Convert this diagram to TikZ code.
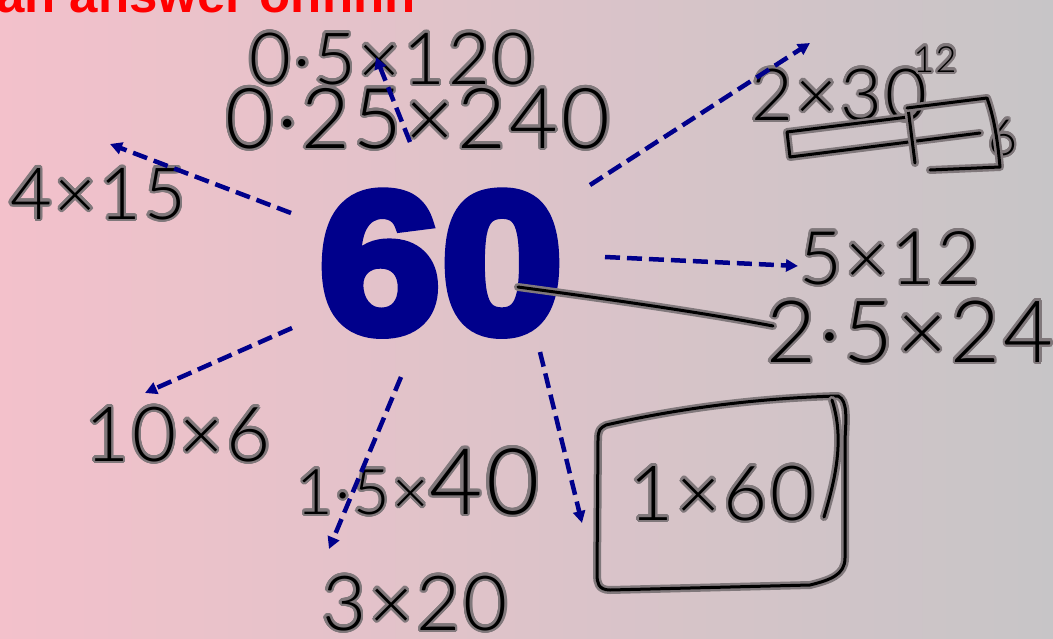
\documentclass[tikz,border=0pt]{standalone}
\usepackage{fontspec}
\usepackage[copies]{contour}
\usetikzlibrary{arrows.meta}
\setmainfont{Liberation Sans}
\IfFontExistsTF{Lato Light}{\newfontfamily\hand{Lato Light}[LetterSpace=4]}{%
  \IfFontExistsTF{Fira Sans Light}{\newfontfamily\hand{Fira Sans Light}[LetterSpace=4]}{%
    \IfFontExistsTF{Poppins Light}{\newfontfamily\hand{Poppins Light}[LetterSpace=2]}{%
      \newfontfamily\hand{Lato}[LetterSpace=4]}}}
\newfontfamily\bigfont{Liberation Sans Bold}[FakeBold=5,FakeStretch=1.1]
\newfontfamily\redfont{Liberation Sans Bold}
\definecolor{bgL}{RGB}{243,193,203}
\definecolor{bgR}{RGB}{199,197,199}
\definecolor{navy}{RGB}{0,0,139}
\definecolor{halo}{RGB}{128,120,123}
\contourlength{2.4pt}
\contournumber{24}
\newcommand\hwt[2]{\fontsize{#1}{#1}\selectfont\contour{halo}{#2}}
\tikzset{
  hw/.style={inner sep=0pt, anchor=base, font=\hand, text=black},
  arr/.style={draw=navy, line width=4.5pt, dash pattern=on 15pt off 7pt,
              -{Triangle[length=12pt,width=12pt]}},
  hstroke/.style={draw=black, line width=3pt, line cap=round, line join=round,
              preaction={draw=halo, line width=8pt, line cap=round, line join=round}},
}
\begin{document}
\begin{tikzpicture}[x=1pt,y=-1pt]
\useasboundingbox (0,0) rectangle (1053,638);
\shade[left color=bgL, right color=bgR] (0,0) rectangle (1053,638);

% title (cut off at top)
\node[inner sep=0pt, anchor=base west, text=red,
      font=\redfont\fontsize{51}{51}\selectfont] (title) at (-4,12) {an answer ohhhh};

% big number
\node[inner sep=0pt, anchor=base, text=navy,
      font=\bigfont\fontsize{200}{200}\selectfont] (sixty) at (441,332) {60};

% handwritten answers
\node[hw] (h1) at (392,84) {\hwt{72}{0·5×120}};
\node[hw] (h2) at (418,148) {\hwt{84}{0·25×240}};
\node[hw] (h3) at (98,219) {\hwt{72}{4×15}};
\node[hw] (h4) at (839,120) {\hwt{72}{2×30}};
\node[hw] (h4a) at (935,72) {\hwt{36}{12}};
\node[hw] (h4b) at (1003,155) {\hwt{50}{6}};
\node[hw] (h5) at (890,284) {\hwt{74}{5×12}};
\node[hw] (h6) at (910,362) {\hwt{86}{2·5×24}};
\node[hw] (h7) at (178,461) {\hwt{76}{10×6}};
\node[hw] (h8) at (418,514) {\hwt{63}{1·5×}\hwt{92}{40}};
\node[hw] (h9) at (415,630) {\hwt{76}{3×20}};
\node[hw] (h10) at (722,520) {\hwt{76}{1×60}};

% handwritten strokes
\coordinate (l1) at (518,287);
\coordinate (l2) at (773,326);
\draw[hstroke] (l1) .. controls (600,298) and (700,312) .. (l2);

\draw[hstroke] (908,117) -- (787,132) -- (790,157) -- (980,133);
\draw[hstroke] (908,108) -- (915,163);
\draw[hstroke] (907,108) -- (987,98) .. controls (995,120) and (998,145) .. (1000,167) -- (930,170);

\draw[hstroke] (606,425) .. controls (680,408) and (760,398) .. (838,396)
  .. controls (848,400) and (846,420) .. (845,440) -- (845,558)
  .. controls (845,575) and (830,580) .. (810,585) -- (610,590)
  .. controls (598,590) and (597,582) .. (597,575) -- (598,440)
  .. controls (598,430) and (600,428) .. (606,425);
\draw[hstroke] (832,400) .. controls (845,440) and (835,480) .. (824,517);

% arrows
\coordinate (s1) at (291,213); \coordinate (e1) at (110,144);
\coordinate (s2) at (410,142); \coordinate (e2) at (376,57);
\coordinate (s3) at (590,185); \coordinate (e3) at (810,43);
\coordinate (s4) at (605,257); \coordinate (e4) at (798,266);
\coordinate (s5) at (292,328); \coordinate (e5) at (145,393);
\coordinate (s6) at (401,377); \coordinate (e6) at (329,549);
\coordinate (s7) at (540,352); \coordinate (e7) at (582,523);
\foreach \i in {1,...,7} { \draw[arr] (s\i) -- (e\i); }
\end{tikzpicture}
\end{document}
